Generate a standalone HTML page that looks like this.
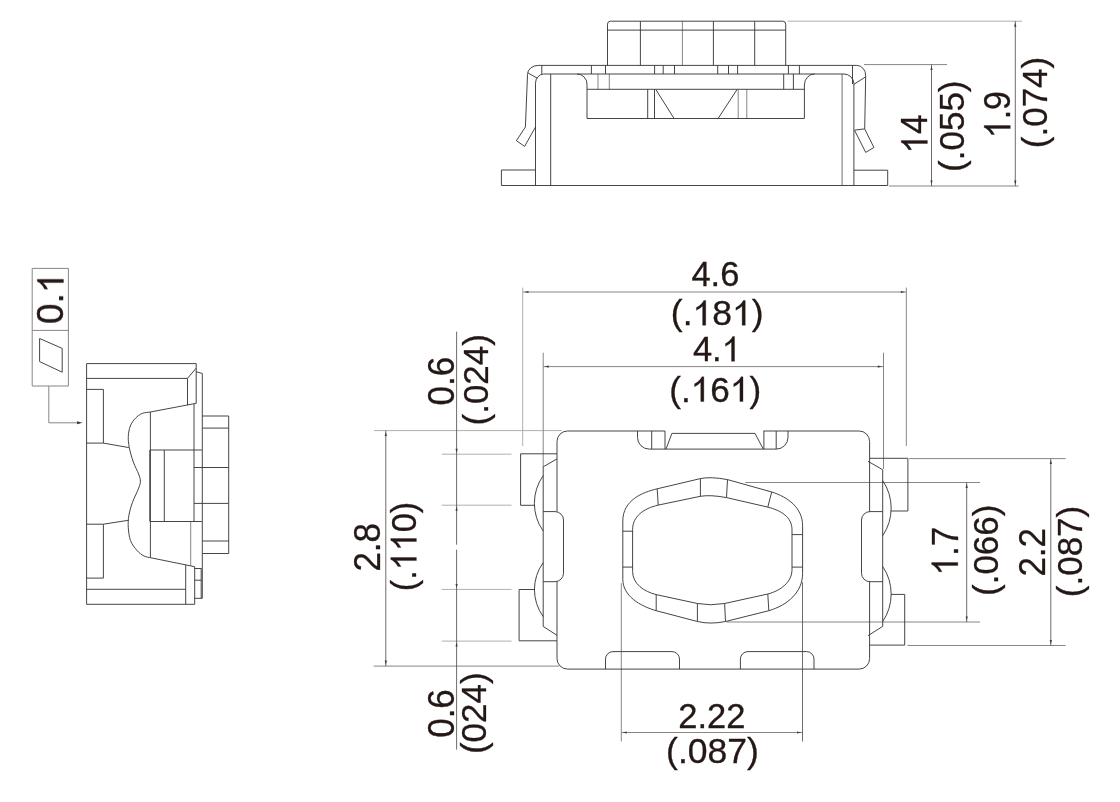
<!DOCTYPE html>
<html><head><meta charset="utf-8"><title>Tact switch dimensions</title>
<style>html,body{margin:0;padding:0;background:#fff;}svg{display:block;}text{font-family:"Liberation Sans",sans-serif;fill:#231815;stroke:#231815;stroke-width:0.3px;}</style></head><body>
<svg width="1120" height="802" viewBox="0 0 1120 802">
<rect width="1120" height="802" fill="#fff"/>
<g fill="none" stroke="#b3afae" stroke-width="1">
<path d="M787.5,21.2 H1022.0"/>
<path d="M522.7,287.6 V446.0"/>
<path d="M373.9,430.6 H561.8"/>
<path d="M441.7,454.2 H511.6"/>
<path d="M441.7,505.2 H511.6"/>
<path d="M441.7,589.4 H511.6"/>
<path d="M441.7,641.1 H511.6"/>
</g>
<g fill="none" stroke="#8a8584" stroke-width="1">
<path d="M682.4,21.2 V65.4"/>
<path d="M738.2,89.3 V118.5"/>
<path d="M746.8,89.3 V118.5"/>
<path d="M598.0,74.0 V89.3"/>
<path d="M609.3,74.0 V89.3"/>
<path d="M864.0,64.6 H947.0"/>
<path d="M889.0,186.0 H1018.6"/>
<path d="M32.2,268.4 H68.4 V386 H32.2 Z"/>
<path d="M32.2,330.4 H68.4"/>
<path d="M48.8,386 V422.8 H80"/>
<path d="M190.7,521.5 V565.8"/>
<path d="M523.0,292.0 H906.3"/>
<path d="M906.3,287.6 V446.0"/>
<path d="M543.2,366.6 H883.3"/>
<path d="M543.2,352.7 V466.8"/>
<path d="M883.5,352.7 V469.0"/>
<path d="M373.7,666.1 H559.0"/>
<path d="M909.2,458.6 H1065.6"/>
<path d="M907.5,645.5 H1065.6"/>
<path d="M745.2,482.5 H980.0"/>
<path d="M726.5,622.0 H980.0"/>
<path d="M621.3,583.2 V741.5"/>
<path d="M621.3,732.5 H802.5"/>
</g>
<g fill="none" stroke="#3e3a39" stroke-width="0.95" stroke-linejoin="round">
<path d="M607.5,65.4 V24.2 Q607.5,21.2 610.5,21.2 H782.7 Q785.7,21.2 785.7,24.2 V65.4"/>
<path d="M607.5,30.1 H785.7"/>
<path d="M640.4,21.2 V65.4"/>
<path d="M713.4,21.2 V65.4"/>
<path d="M754.7,21.2 V65.4"/>
<path d="M525.4,127 L527.5,74.4 A10.7,9 0 0 1 538.2,65.4 H856.8 A9,10 0 0 1 865.7,75.8 L864.7,128.9"/>
<path d="M525.4,127 L516.4,140.7 L524.6,146.4 L535.5,127"/>
<path d="M854.5,130.2 L864.7,128.9 L873.9,147.5 L865.7,152.4 Z"/>
<path d="M535.5,185.5 V83.2 A8.5,9.2 0 0 1 543.6,74 H844 A10,10 0 0 1 853.9,83.7 V185.5"/>
<path d="M541.8,65.4 V74.0"/>
<path d="M527.9,72.9 L537.3,78.2"/>
<path d="M852.5,65.4 V84.0"/>
<path d="M853.9,84.3 L865.7,76.8"/>
<path d="M550.7,74.0 V185.5"/>
<path d="M501.4,185.5 H887.7"/>
<path d="M535.5,170 H501.4 V185.5"/>
<path d="M853.9,170.2 H887.7 V185.5"/>
<path d="M577,74 A10,10 0 0 1 587,84.1 V118.5 H804.4 V85 A10.2,11 0 0 1 814.6,74"/>
<path d="M587.0,89.3 H804.4"/>
<path d="M647.7,89.3 V118.5"/>
<path d="M654.5,89.3 V118.5"/>
<path d="M656.0,89.8 L673.9,118.2"/>
<path d="M737.0,89.6 L718.3,118.2"/>
<path d="M591.4,65.4 V74.0"/>
<path d="M605.5,65.4 V74.0"/>
<path d="M654.6,65.4 V74.0"/>
<path d="M663.2,65.4 V74.0"/>
<path d="M674.5,65.4 V74.0"/>
<path d="M717.7,65.4 V74.0"/>
<path d="M728.5,65.4 V74.0"/>
<path d="M737.6,65.4 V74.0"/>
<path d="M788.4,65.4 V74.0"/>
<path d="M799.4,65.4 V74.0"/>
<path d="M783.7,74.0 V89.3"/>
<path d="M793.4,74.0 V89.3"/>
<path d="M39.6,338.5 L62.2,348.4 V372.2 L39.6,361.6 Z"/>
<path d="M86.6,604.3 V363.6 H196.2 V403.3"/>
<path d="M86.6,378.4 H187.5 L196.2,368.1"/>
<path d="M187.5,378.4 V405.1"/>
<path d="M196.2,371.7 L202.3,373.5 V598.3"/>
<path d="M150.4,412.0 L196.2,403.3"/>
<path d="M150.4,412.0 C149.1,412.2 144.8,412.4 142.3,413.4 C139.8,414.4 137.5,416.1 135.5,418.2 C133.5,420.3 131.5,422.9 130.3,426.0 C129.1,429.1 128.5,432.9 128.3,436.5 C128.1,440.1 128.5,443.4 129.3,447.6 C130.1,451.9 131.8,457.6 133.3,462.0 C134.9,466.4 137.4,470.8 138.6,474.0 C139.8,477.2 140.4,478.6 140.4,481.0 C140.4,483.4 140.0,484.5 138.7,488.1 C137.4,491.7 134.0,498.0 132.4,502.5 C130.8,507.0 129.6,511.0 128.9,515.2 C128.2,519.4 128.0,523.6 128.3,527.8 C128.6,532.0 129.1,536.7 130.5,540.5 C131.9,544.3 134.7,547.8 136.9,550.4 C139.2,553.0 141.8,554.8 144.0,556.0 C146.2,557.2 149.3,557.4 150.4,557.7"/>
<path d="M150.4,412.0 V450.0"/>
<path d="M150.4,521.5 V557.7"/>
<path d="M86.6,389.4 H103.4 V443.1 H86.6"/>
<path d="M103.4,443.1 L128.9,447.6"/>
<path d="M86.6,524.2 H103.4 V578.1 H86.6"/>
<path d="M103.4,524.2 L128.9,520.2"/>
<path d="M194.0,404.0 V521.5"/>
<path d="M150.1,450 H201.8"/>
<path d="M150.1,521.5 H201.8"/>
<path d="M164.3,450.0 V521.5"/>
<path d="M202.3,416 H228.7 V553.5 H202.3"/>
<path d="M202.3,428.1 H228.7"/>
<path d="M202.3,541.0 H228.7"/>
<path d="M194.0,467.5 H228.7"/>
<path d="M194.0,503.4 H228.7"/>
<path d="M86.6,589.3 H185.7"/>
<path d="M86.6,604.3 H194.7"/>
<path d="M185.7,564.9 V604.3"/>
<path d="M194.7,566.7 V604.3"/>
<path d="M150.4,557.7 L194.7,566.7"/>
<path d="M194.7,568.5 H201.6"/>
<path d="M194.7,580.2 H201.6"/>
<path d="M194.7,598.3 H202.3"/>
<path d="M201.2,568.5 V598.3"/>
<path d="M665,431 H567.5 A10.5,10.5 0 0 0 557,441.5 V511.6"/>
<path d="M557,581.7 V658.6 A10.5,10.5 0 0 0 567.5,669.1 H859.1 A10.5,10.5 0 0 0 869.6,658.6 V581.7"/>
<path d="M869.6,511.6 V441.5 A10.5,10.5 0 0 0 859.1,431 H763.6"/>
<path d="M637.5,431 V437.4 A11.7,11.7 0 0 0 649.2,449.1 H776.3 A11.7,11.7 0 0 0 788,437.4 V431"/>
<path d="M651.7,431.0 V449.1"/>
<path d="M665.0,431.0 V449.1"/>
<path d="M763.9,431.0 V449.1"/>
<path d="M776.2,431.0 V449.1"/>
<path d="M666,449.1 L671.9,433.4 H755 L763.3,449.1"/>
<path d="M557,453.8 H520.6 V505.3 H535"/>
<path d="M557,458.9 L543.2,466.8 V626.4 L557,635.3"/>
<path d="M543.2,475.6 A48,48 0 0 0 543.2,531"/>
<path d="M543.2,562.6 A46,46 0 0 0 543.2,616.6"/>
<path d="M543.2,511.6 H555 A8.5,8.5 0 0 1 563.5,520.1 V573.2 A8.5,8.5 0 0 1 555,581.7 H543.2"/>
<path d="M535,589.5 H519.1 V640.8 H557"/>
<path d="M869.6,458.3 H907.9 V511 H891"/>
<path d="M868,461.3 L882.7,469.7 V626.4 L868,635.7"/>
<path d="M882.7,480.6 A49,49 0 0 1 882.7,535.6"/>
<path d="M882.7,566.5 A49,49 0 0 1 882.7,621.5"/>
<path d="M882.7,511.6 H870 A8.5,8.5 0 0 0 861.5,520.1 V573.2 A8.5,8.5 0 0 0 870,581.7 H882.7"/>
<path d="M891,594.4 H904.7 V645.1 H869.6"/>
<path d="M605.5,669.1 V659.1 A7.5,7.5 0 0 1 613,651.6 H672 A7.5,7.5 0 0 1 679.5,659.1 V669.1"/>
<path d="M740.4,669.1 V659.1 A7.5,7.5 0 0 1 747.9,651.6 H806.5 A7.5,7.5 0 0 1 814,659.1 V669.1"/>
<path d="M622.8,579.3 V521 C622.8,500 642.7,492.2 657.2,488.8 L700.4,478.6 Q710.5,476.4 727.5,479.6 L771.7,492 C788,497 802.6,508 802.6,525.7 V573.4 C802.6,592 788,605 768.8,610.7 L725.5,621.5 Q710.5,624.6 697.4,621.5 L656.2,610.7 C640,606 622.8,596 622.8,579.3 Z"/>
<path d="M632.6,571.4 V529.7 C632.6,516 644,508.5 658.2,505.1 L700.4,496.3 Q710.5,494.6 726.5,497.6 L767.8,507.1 C781,510.5 792,517 792,529.7 V569.5 C792,582 781,590.5 767.8,594 L724.6,603.5 Q710.5,606 697.4,603.5 L656.2,594.6 C644,591.5 632.6,584 632.6,571.4 Z"/>
<path d="M622.8,531.2 H632.6"/>
<path d="M622.8,567.1 H632.6"/>
<path d="M792.0,534.6 H802.6"/>
<path d="M792.0,567.1 H802.6"/>
<path d="M657.2,488.8 L658.2,505.1"/>
<path d="M700.4,478.6 V496.3"/>
<path d="M727.5,479.6 L726.5,497.6"/>
<path d="M771.7,492.0 L767.8,507.1"/>
<path d="M656.2,594.6 V610.7"/>
<path d="M697.4,603.5 V621.5"/>
<path d="M724.6,603.5 L725.5,621.5"/>
<path d="M767.8,594.0 L768.8,610.7"/>
</g>
<g fill="none" stroke="#4a4544" stroke-width="0.8">
<path d="M842.1,74.0 V185.5"/>
<path d="M931.5,64.6 V186.0"/>
<path d="M1015.3,21.2 V186.0"/>
<path d="M385.8,430.6 V666.1"/>
<path d="M456.6,331.6 V544.7"/>
<path d="M456.6,549.7 V749.6"/>
<path d="M1050.8,458.6 V645.5"/>
<path d="M966.7,482.5 V622.0"/>
<path d="M802.5,582.2 V741.5"/>
</g>
<g fill="none" stroke="#3e3a39" stroke-width="1.6">
<path d="M150.1,450.0 V521.5"/>
</g>
<g fill="#3e3a39" stroke="none">
<polygon points="931.5,65.9 930.4,70.1 932.6,70.1"/>
<polygon points="931.5,184.7 930.4,180.5 932.6,180.5"/>
<polygon points="1015.3,22.5 1014.2,26.7 1016.4,26.7"/>
<polygon points="1015.3,184.7 1014.2,180.5 1016.4,180.5"/>
<polygon points="82.5,422.8 77.0,421.3 77.0,424.3"/>
<polygon points="524.3,292.0 528.5,290.9 528.5,293.1"/>
<polygon points="905.0,292.0 900.8,290.9 900.8,293.1"/>
<polygon points="544.5,366.6 548.7,365.5 548.7,367.7"/>
<polygon points="882.0,366.6 877.8,365.5 877.8,367.7"/>
<polygon points="385.8,431.9 384.7,436.1 386.9,436.1"/>
<polygon points="385.8,664.8 384.7,660.6 386.9,660.6"/>
<polygon points="456.6,452.9 455.5,448.7 457.7,448.7"/>
<polygon points="456.6,506.5 455.5,510.7 457.7,510.7"/>
<polygon points="456.6,588.1 455.5,583.9 457.7,583.9"/>
<polygon points="456.6,642.4 455.5,646.6 457.7,646.6"/>
<polygon points="1050.8,459.9 1049.7,464.1 1051.9,464.1"/>
<polygon points="1050.8,644.2 1049.7,640.0 1051.9,640.0"/>
<polygon points="966.7,483.8 965.6,488.0 967.8,488.0"/>
<polygon points="966.7,620.7 965.6,616.5 967.8,616.5"/>
<polygon points="622.6,732.5 626.8,731.4 626.8,733.6"/>
<polygon points="801.2,732.5 797.0,731.4 797.0,733.6"/>
</g>
<g fill="#231815" stroke="#231815" stroke-width="0.3" style="opacity:0.999">
<g transform="translate(927.4,134.0) rotate(-90) scale(1.000,1.040)"><text x="0.00" y="0" font-size="35.0">4</text><path transform="translate(-19.46,0) scale(35.00)" stroke-width="0.0086" d="M0.3726,0 L0.2847,0 L0.2847,-0.5601 Q0.215,-0.483 0.1089,-0.4331 L0.1089,-0.5166 C0.19,-0.555 0.29,-0.64 0.3159,-0.7188 L0.3726,-0.7188 Z"/></g>
<g transform="translate(963.7,126.2) rotate(-90) scale(1.000,1.020)"><text x="-45.71 -34.05 -24.32 -4.86 14.60 34.06" y="0" font-size="35.0">(.055)</text></g>
<g transform="translate(1010.3,114.6) rotate(-90) scale(0.970,1.040)"><text x="-4.87 4.86" y="0" font-size="35.0">.9</text><path transform="translate(-24.33,0) scale(35.00)" stroke-width="0.0086" d="M0.3726,0 L0.2847,0 L0.2847,-0.5601 Q0.215,-0.483 0.1089,-0.4331 L0.1089,-0.5166 C0.19,-0.555 0.29,-0.64 0.3159,-0.7188 L0.3726,-0.7188 Z"/></g>
<g transform="translate(1046.7,102.5) rotate(-90) scale(1.000,1.020)"><text x="-45.71 -34.05 -24.32 -4.86 14.60 34.06" y="0" font-size="35.0">(.074)</text></g>
<g transform="translate(63.4,298.3) rotate(-90) scale(1.060,1.040)"><text x="-24.33 -4.87" y="0" font-size="35.0">0.</text><path transform="translate(4.86,0) scale(35.00)" stroke-width="0.0086" d="M0.3726,0 L0.2847,0 L0.2847,-0.5601 Q0.215,-0.483 0.1089,-0.4331 L0.1089,-0.5166 C0.19,-0.555 0.29,-0.64 0.3159,-0.7188 L0.3726,-0.7188 Z"/></g>
<g transform="translate(715.4,285.6) scale(1.000,1.000)"><text x="-23.98 -4.80 4.80" y="0" font-size="34.5">4.6</text></g>
<g transform="translate(717.2,325.3) scale(1.030,1.000)"><text x="-45.06 -33.57 -4.80 33.57" y="0" font-size="34.5">(.8)</text><path transform="translate(-23.98,0) scale(34.50)" stroke-width="0.0087" d="M0.3726,0 L0.2847,0 L0.2847,-0.5601 Q0.215,-0.483 0.1089,-0.4331 L0.1089,-0.5166 C0.19,-0.555 0.29,-0.64 0.3159,-0.7188 L0.3726,-0.7188 Z"/><path transform="translate(14.39,0) scale(34.50)" stroke-width="0.0087" d="M0.3726,0 L0.2847,0 L0.2847,-0.5601 Q0.215,-0.483 0.1089,-0.4331 L0.1089,-0.5166 C0.19,-0.555 0.29,-0.64 0.3159,-0.7188 L0.3726,-0.7188 Z"/></g>
<g transform="translate(716.9,361.3) scale(1.000,1.000)"><text x="-23.98 -4.80" y="0" font-size="34.5">4.</text><path transform="translate(4.80,0) scale(34.50)" stroke-width="0.0087" d="M0.3726,0 L0.2847,0 L0.2847,-0.5601 Q0.215,-0.483 0.1089,-0.4331 L0.1089,-0.5166 C0.19,-0.555 0.29,-0.64 0.3159,-0.7188 L0.3726,-0.7188 Z"/></g>
<g transform="translate(715.2,401.6) scale(1.020,1.000)"><text x="-45.06 -33.57 -4.80 33.57" y="0" font-size="34.5">(.6)</text><path transform="translate(-23.98,0) scale(34.50)" stroke-width="0.0087" d="M0.3726,0 L0.2847,0 L0.2847,-0.5601 Q0.215,-0.483 0.1089,-0.4331 L0.1089,-0.5166 C0.19,-0.555 0.29,-0.64 0.3159,-0.7188 L0.3726,-0.7188 Z"/><path transform="translate(14.39,0) scale(34.50)" stroke-width="0.0087" d="M0.3726,0 L0.2847,0 L0.2847,-0.5601 Q0.215,-0.483 0.1089,-0.4331 L0.1089,-0.5166 C0.19,-0.555 0.29,-0.64 0.3159,-0.7188 L0.3726,-0.7188 Z"/></g>
<g transform="translate(453.6,381.2) rotate(-90) scale(1.000,1.040)"><text x="-24.33 -4.87 4.86" y="0" font-size="35.0">0.6</text></g>
<g transform="translate(487.9,379.8) rotate(-90) scale(1.000,1.020)"><text x="-45.71 -34.05 -24.32 -4.86 14.60 34.06" y="0" font-size="35.0">(.024)</text></g>
<g transform="translate(379.7,547.3) rotate(-90) scale(1.000,1.040)"><text x="-24.33 -4.87 4.86" y="0" font-size="35.0">2.8</text></g>
<g transform="translate(416.4,546.5) rotate(-90) scale(0.980,1.020)"><text x="-45.71 -34.05 14.60 34.06" y="0" font-size="35.0">(.0)</text><path transform="translate(-24.32,0) scale(35.00)" stroke-width="0.0086" d="M0.3726,0 L0.2847,0 L0.2847,-0.5601 Q0.215,-0.483 0.1089,-0.4331 L0.1089,-0.5166 C0.19,-0.555 0.29,-0.64 0.3159,-0.7188 L0.3726,-0.7188 Z"/><path transform="translate(-4.86,0) scale(35.00)" stroke-width="0.0086" d="M0.3726,0 L0.2847,0 L0.2847,-0.5601 Q0.215,-0.483 0.1089,-0.4331 L0.1089,-0.5166 C0.19,-0.555 0.29,-0.64 0.3159,-0.7188 L0.3726,-0.7188 Z"/></g>
<g transform="translate(453.5,713.5) rotate(-90) scale(1.000,1.040)"><text x="-24.33 -4.87 4.86" y="0" font-size="35.0">0.6</text></g>
<g transform="translate(485.6,713.2) rotate(-90) scale(1.000,1.020)"><text x="-40.84 -29.19 -9.73 9.73 29.19" y="0" font-size="35.0">(024)</text></g>
<g transform="translate(957.8,551.2) rotate(-90) scale(1.000,1.040)"><text x="-4.87 4.86" y="0" font-size="35.0">.7</text><path transform="translate(-24.33,0) scale(35.00)" stroke-width="0.0086" d="M0.3726,0 L0.2847,0 L0.2847,-0.5601 Q0.215,-0.483 0.1089,-0.4331 L0.1089,-0.5166 C0.19,-0.555 0.29,-0.64 0.3159,-0.7188 L0.3726,-0.7188 Z"/></g>
<g transform="translate(998.1,550.3) rotate(-90) scale(1.000,1.020)"><text x="-45.71 -34.05 -24.32 -4.86 14.60 34.06" y="0" font-size="35.0">(.066)</text></g>
<g transform="translate(1045.4,552.3) rotate(-90) scale(1.000,1.040)"><text x="-24.33 -4.87 4.86" y="0" font-size="35.0">2.2</text></g>
<g transform="translate(1081.7,551.5) rotate(-90) scale(1.000,1.020)"><text x="-45.71 -34.05 -24.32 -4.86 14.60 34.06" y="0" font-size="35.0">(.087)</text></g>
<g transform="translate(711.8,727.8) scale(1.000,1.000)"><text x="-33.57 -14.39 -4.80 14.39" y="0" font-size="34.5">2.22</text></g>
<g transform="translate(712.5,762.9) scale(1.030,1.000)"><text x="-45.06 -33.57 -23.98 -4.80 14.39 33.57" y="0" font-size="34.5">(.087)</text></g>
</g>
</svg></body></html>
